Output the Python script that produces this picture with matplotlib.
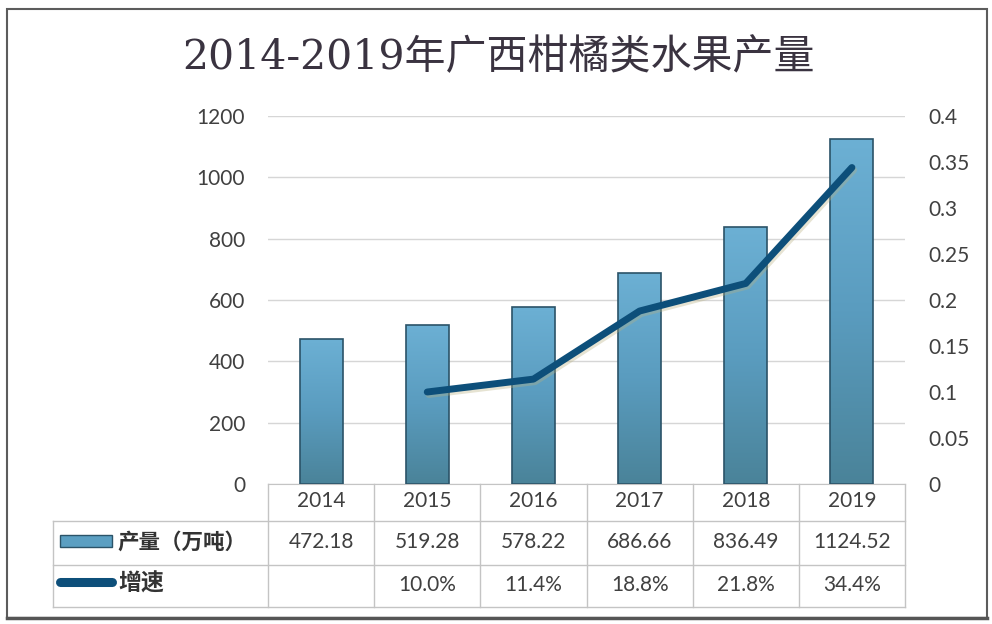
import numpy as np
import matplotlib
matplotlib.use("Agg")
import matplotlib.pyplot as plt
from matplotlib.colors import LinearSegmentedColormap
from matplotlib.lines import Line2D
from matplotlib.patches import Rectangle
import matplotlib.transforms as mtransforms
import matplotlib.patheffects as pe

# ---- data ----
years = ['2014', '2015', '2016', '2017', '2018', '2019']
output = [472.18, 519.28, 578.22, 686.66, 836.49, 1124.52]
growth_years_idx = [1, 2, 3, 4, 5]
growth = [0.100, 0.114, 0.188, 0.218, 0.344]
output_labels = ['472.18', '519.28', '578.22', '686.66', '836.49', '1124.52']
growth_labels = ['', '10.0%', '11.4%', '18.8%', '21.8%', '34.4%']
left_ticks = [0, 200, 400, 600, 800, 1000, 1200]
right_ticks = [0, 0.05, 0.1, 0.15, 0.2, 0.25, 0.3, 0.35, 0.4]
right_tick_labels = ['0', '0.05', '0.1', '0.15', '0.2', '0.25', '0.3', '0.35', '0.4']
title = '2014-2019年广西柑橘类水果产量'
row1_label = '产量（万吨）'
row2_label = '增速'

W, H = 992, 624
def fx(x): return x / W
def fy(y): return 1 - y / H

TXT = '#404040'
GRID = '#d6d6d6'
TBL = '#c4c4c4'
LINEC = '#0d4f7a'

fig = plt.figure(figsize=(W / 100, H / 100), dpi=100)
fig.patch.set_facecolor('white')

ax = fig.add_axes([fx(268), fy(484), fx(905) - fx(268), fy(116) - fy(484)])
x = np.arange(len(years))

bars = ax.bar(x, output, width=0.405, facecolor='none', edgecolor='#2b5368',
              linewidth=1.2, zorder=3)
cmap = LinearSegmentedColormap.from_list('b', ['#6cb0d4', '#5a9cbf', '#4a8399'])
grad = np.linspace(0, 1, 256).reshape(-1, 1)
for b in bars:
    x0, w, h = b.get_x(), b.get_width(), b.get_height()
    im = ax.imshow(grad, extent=[x0, x0 + w, 0, h], aspect='auto', cmap=cmap,
                   origin='upper', zorder=2)
    im.set_clip_path(b)

ax.set_xlim(-0.5, len(years) - 0.5)
ax.set_ylim(0, 1200)
ax.set_yticks(left_ticks)
ax.set_xticks([])
ax.yaxis.grid(True, color=GRID, linewidth=1)
ax.set_axisbelow(True)
for s in ['left', 'right', 'top']:
    ax.spines[s].set_visible(False)
ax.spines['bottom'].set_color(TBL)
ax.tick_params(axis='y', length=0, pad=16.5, labelsize=15, labelcolor=TXT)
for lab in ax.get_yticklabels():
    lab.set_fontfamily('Lato')

ax2 = ax.twinx()
ax2.set_ylim(0, 0.4)
ax2.set_yticks(right_ticks)
ax2.set_yticklabels(right_tick_labels, fontfamily='Lato')
ax2.tick_params(axis='y', length=0, pad=16.5, labelsize=15, labelcolor=TXT)
for s in ax2.spines.values():
    s.set_visible(False)
ax2.plot(growth_years_idx, growth, color=LINEC, linewidth=5,
         solid_capstyle='round', solid_joinstyle='round', zorder=5,
         path_effects=[pe.SimpleLineShadow(offset=(1.2, -1.8), shadow_color='#b8b080', alpha=0.35),
                       pe.Normal()])

# ---- data table ----
bt = mtransforms.blended_transform_factory(ax.transData, fig.transFigure)
ft = fig.transFigure
for i in range(len(years) + 1):
    xb = i - 0.5
    fig.add_artist(Line2D([xb, xb], [fy(484), fy(607)], transform=bt, color=TBL, lw=1))
for yy in [521, 565, 607]:
    fig.add_artist(Line2D([fx(53), fx(905)], [fy(yy), fy(yy)], transform=ft, color=TBL, lw=1))
fig.add_artist(Line2D([fx(53), fx(53)], [fy(521), fy(607)], transform=ft, color=TBL, lw=1))

for i, yr in enumerate(years):
    fig.text(i, fy(501), yr, transform=bt, ha='center', va='center',
             fontsize=15, color=TXT, family='Lato')
    fig.text(i, fy(542), output_labels[i], transform=bt, ha='center', va='center',
             fontsize=15, color=TXT, family='Lato')
    fig.text(i, fy(585), growth_labels[i], transform=bt, ha='center', va='center',
             fontsize=15, color=TXT, family='Lato')

# legend keys
fig.add_artist(Rectangle((fx(60), fy(547)), fx(112) - fx(60), fy(535) - fy(547),
                         transform=ft, facecolor='#5b9fc2', edgecolor='#2b5368', lw=1))
fig.add_artist(Line2D([fx(60), fx(112)], [fy(582), fy(582)], transform=ft,
                      color=LINEC, lw=6.5, solid_capstyle='round'))
fig.text(fx(117), fy(542), row1_label, ha='left', va='center', fontsize=15.5,
         color='#333333', family=['Noto Sans CJK SC', 'DejaVu Sans'], weight='bold')
fig.text(fx(118), fy(584), row2_label, ha='left', va='center', fontsize=16.5,
         color='#333333', family=['Noto Sans CJK SC', 'DejaVu Sans'], weight='bold')

# title
fig.text(fx(498), fy(58), title, ha='center', va='center', fontsize=29.5,
         color='#3a3340', family=['DejaVu Serif', 'Noto Sans CJK SC'])

# outer frame
fig.add_artist(Rectangle((fx(7), fy(618)), fx(987) - fx(7), fy(9) - fy(618),
                         transform=ft, facecolor='none', edgecolor='#5c5c5c', lw=1.5))
fig.add_artist(Line2D([fx(7), fx(987)], [fy(618), fy(618)], transform=ft,
                      color='#555555', lw=2.5))

fig.savefig('out.png', dpi=100, facecolor='white')
